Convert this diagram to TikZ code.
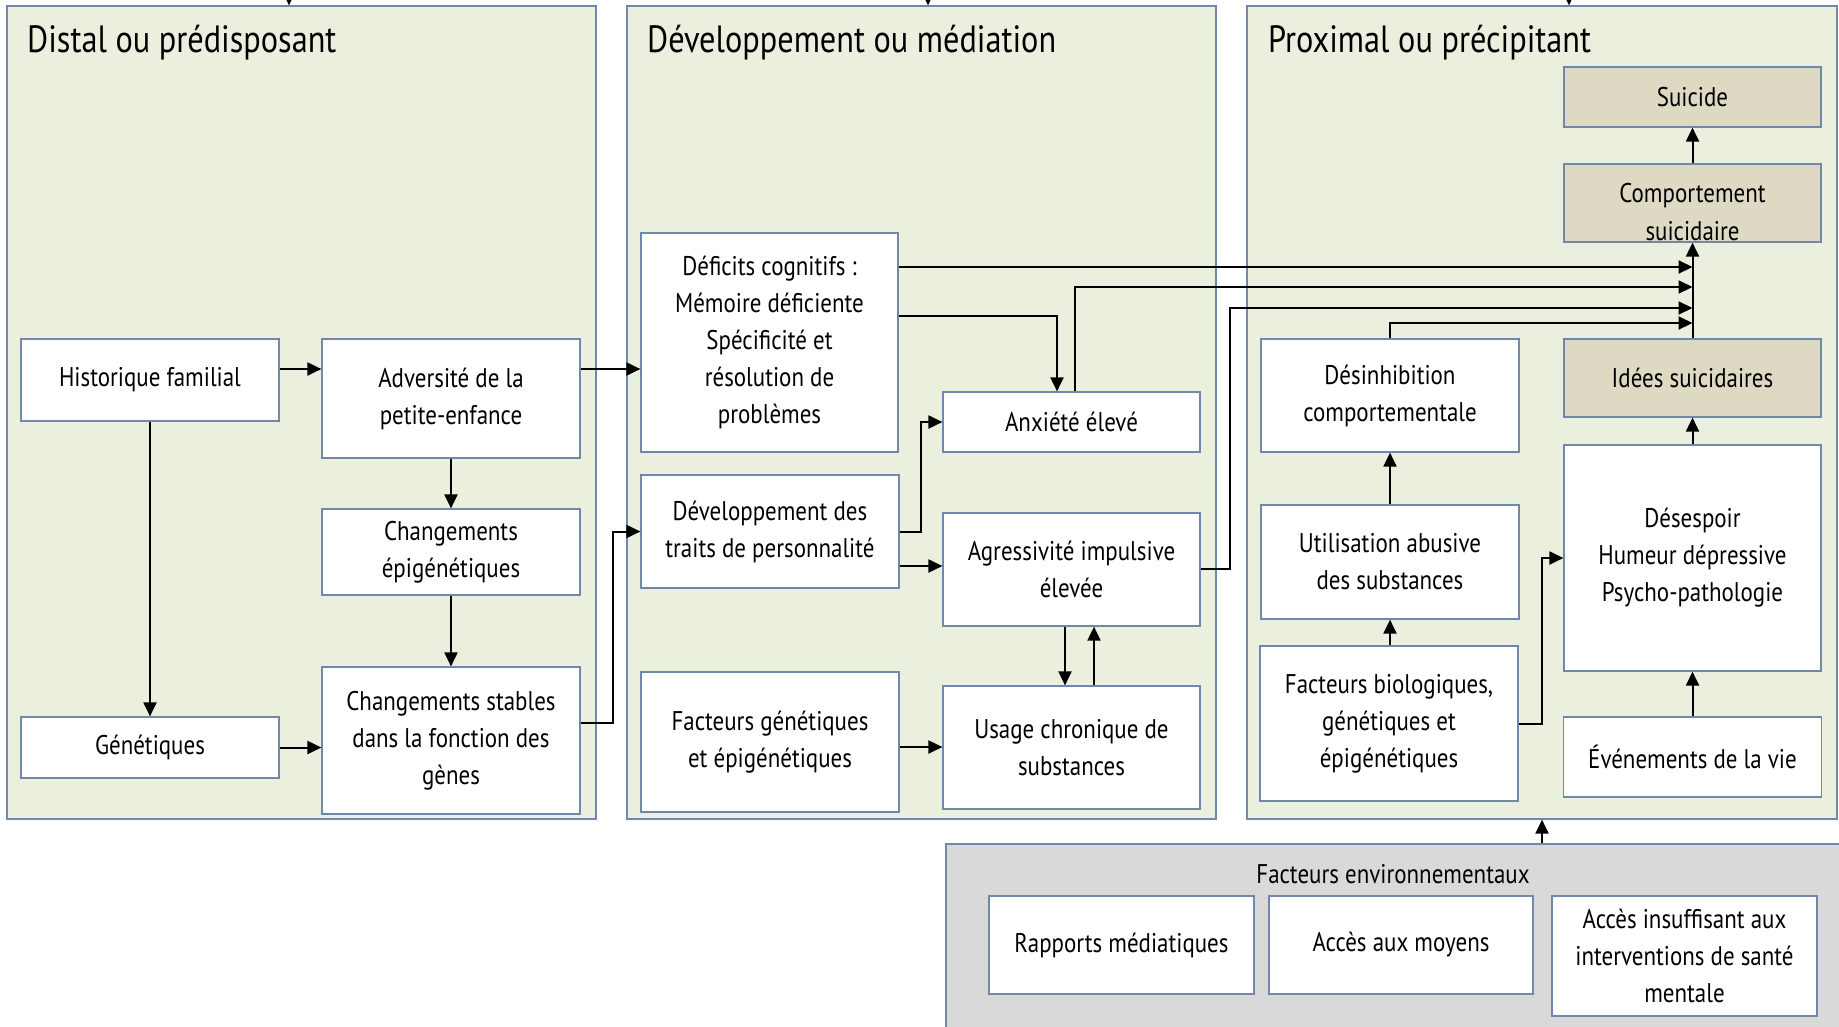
\documentclass[tikz,border=0pt]{standalone}
\usepackage{fontspec}
\setmainfont{PT Sans}[FakeStretch=0.85]
\usetikzlibrary{arrows.meta}
\definecolor{panelfill}{HTML}{EBEFDE}
\definecolor{edge}{HTML}{6F88AC}
\definecolor{tanfill}{HTML}{DDD9C3}
\definecolor{envfill}{HTML}{D9D9D9}
\begin{document}
\begin{tikzpicture}[x=1pt,y=-1pt,
  panel/.style n args={2}{draw=edge, line width=1.2pt, fill=panelfill, minimum width=#1pt, minimum height=#2pt, inner sep=0pt},
  box/.style n args={2}{draw=edge, line width=1.2pt, fill=white, minimum width=#1pt, minimum height=#2pt, inner sep=0pt, align=center, font=\fontsize{27}{37}\selectfont},
  tbox/.style n args={2}{box={#1}{#2}, fill=tanfill},
  title/.style={anchor=base west, inner sep=0pt, font=\fontsize{38}{42}\selectfont},
  arr/.style={line width=2pt, -{Triangle[length=14pt,width=13pt]}}
]
\useasboundingbox (0,0) rectangle (1839,1026);
\fill[white] (0,0) rectangle (1839,1026);

% panels
\node[panel={589}{813}] (p1) at (301.5,412.5) {};
\node[panel={589}{813}] (p2) at (921.5,412.5) {};
\node[panel={590}{813}] (p3) at (1542,412.5) {};
\node[title] (t1) at (27,52) {Distal ou prédisposant};
\node[title] (t2) at (647,52) {Développement ou médiation};
\node[title] (t3) at (1268,52) {Proximal ou précipitant};

% arrows entering panels from above
\coordinate (in1) at (289,-30);
\coordinate (in2) at (928,-30);
\coordinate (in3) at (1569,-30);
\draw[arr] (in1) -- (p1.north -| in1);
\draw[arr] (in2) -- (p2.north -| in2);
\draw[arr] (in3) -- (p3.north -| in3);

% environment
\node[draw=edge, line width=1.2pt, fill=envfill, minimum width=910pt, minimum height=200pt, inner sep=0pt] (env) at (1401,944) {};
\node[inner sep=0pt, font=\fontsize{27}{37}\selectfont] (envt) at (1393,874) {Facteurs environnementaux};
\node[box={265}{98}] (rap) at (1121.5,945) {Rapports médiatiques};
\node[box={264}{98}] (acc) at (1401,945) {Accès aux moyens};
\node[box={265}{120}] (ins) at (1684.5,956) {Accès insuffisant aux\\interventions de santé\\mentale};

% panel 1
\node[box={258}{82}] (hist) at (150,380) {Historique familial};
\node[box={258}{119}] (adv) at (451,398.5) {Adversité de la\\petite-enfance};
\node[box={258}{86}] (chepi) at (451,552) {Changements\\épigénétiques};
\node[box={258}{147}] (chst) at (451,740.5) {Changements stables\\dans la fonction des\\gènes};
\node[box={258}{61}] (gen) at (150,747.5) {Génétiques};

% panel 2
\node[box={257}{219}] (def) at (769.5,342.5) {Déficits cognitifs :\\Mémoire déficiente\\Spécificité et\\résolution de\\problèmes};
\node[box={257}{60}] (anx) at (1071.5,422) {Anxiété élevé};
\node[box={258}{113}] (dev) at (770,531.5) {Développement des\\traits de personnalité};
\node[box={257}{113}] (agr) at (1071.5,569.5) {Agressivité impulsive\\élevée};
\node[box={258}{140}] (fge) at (770,742) {Facteurs génétiques\\et épigénétiques};
\node[box={257}{123}] (usa) at (1071.5,747.5) {Usage chronique de\\substances};

% panel 3
\node[tbox={257}{60}] (suic) at (1692.5,97) {Suicide};
\node[tbox={257}{78}, path picture={\node[inner sep=0pt, align=center, font=\fontsize{27}{38}\selectfont] (comptext) at ([yshift=-9pt]path picture bounding box.center) {Comportement\\suicidaire};}] (comp) at (1692.5,203) {};
\node[tbox={257}{78}] (idee) at (1692.5,378) {Idées suicidaires};
\node[box={258}{113}] (desi) at (1390,395.5) {Désinhibition\\comportementale};
\node[box={258}{114}] (util) at (1390,562) {Utilisation abusive\\des substances};
\node[box={258}{155}] (bio) at (1389,723.5) {Facteurs biologiques,\\génétiques et\\épigénétiques};
\node[box={257}{226}] (desp) at (1692.5,558) {Désespoir\\Humeur dépressive\\Psycho-pathologie};
\node[box={258}{80}] (even) at (1692.5,757) {Événements de la vie};

% connectors panel 1
\draw[arr] (hist.east |- 0,369) -- (adv.west |- 0,369);
\draw[arr] (adv.east |- 0,369) -- (def.west |- 0,369);
\draw[arr] (hist.south) -- (gen.north);
\draw[arr] (adv.south) -- (chepi.north);
\draw[arr] (chepi.south) -- (chst.north);
\draw[arr] (gen.east) -- (chst.west |- gen.east);
\draw[arr] (chst.east |- 0,723) -- ++(32,0) |- (dev.west);

% connectors panel 2
\draw[arr] (def.east |- 0,267) -- (idee.north |- 0,267);
\draw[arr] (anx.north -| 1075,0) |- (idee.north |- 0,287);
\draw[arr] (def.east |- 0,316) -| (anx.north -| 1057,0);
\draw[arr] (agr.east |- 0,569) -- ++(29,0) |- (idee.north |- 0,308);
\draw[arr] (desi.north) |- (idee.north |- 0,323);
\draw[arr] (dev.east |- 0,532) -- ++(21,0) |- (anx.west);
\draw[arr] (dev.east |- 0,566) -- (agr.west |- 0,566);
\draw[arr] (agr.south -| 1065,0) -- (usa.north -| 1065,0);
\draw[arr] (usa.north -| 1094,0) -- (agr.south -| 1094,0);
\draw[arr] (fge.east |- 0,747) -- (usa.west |- 0,747);

% connectors panel 3
\draw[arr] (comp.north) -- (suic.south);
\draw[arr] (idee.north) -- (comp.south);
\draw[arr] (desp.north) -- (idee.south);
\draw[arr] (even.north) -- (desp.south);
\draw[arr] (util.north) -- (desi.south);
\draw[arr] (bio.north -| util.north) -- (util.south);
\draw[arr] (bio.east |- 0,724) -- ++(23,0) |- (desp.west);
\draw[arr] (env.north -| p3.south) -- (p3.south);
\end{tikzpicture}
\end{document}
